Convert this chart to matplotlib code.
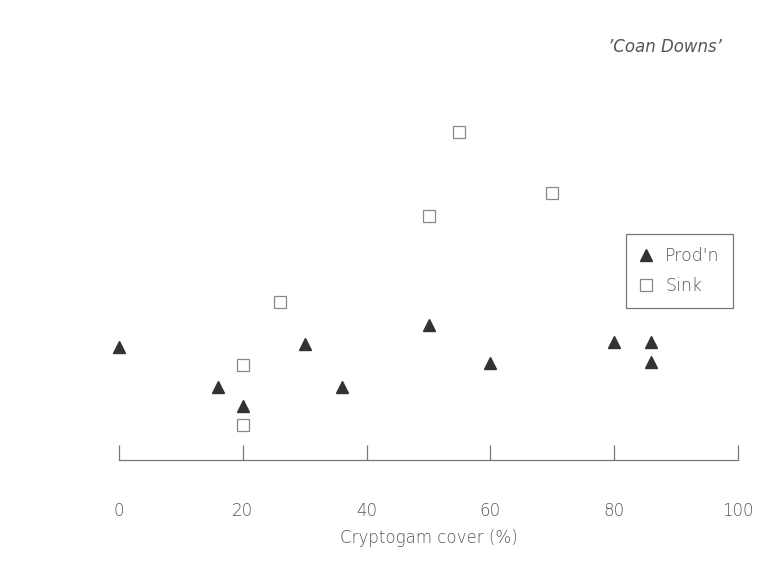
import numpy as np
import matplotlib.pyplot as plt

# Production (filled triangles)
prod_x = [0, 16, 20, 30, 36, 50, 60, 80, 86, 86]
prod_y = [11.3, 7.3, 5.4, 11.6, 7.3, 13.5, 9.7, 11.8, 11.8, 9.8]

# Sink (open squares)
sink_x = [20, 20, 26, 50, 55, 70]
sink_y = [9.5, 3.5, 15.8, 24.4, 32.8, 26.7]

xticks = [0, 20, 40, 60, 80, 100]

ink = '#555555'
fnt = dict(family='DejaVu Sans', weight='light', color=ink)

fig = plt.figure(figsize=(7.71, 5.8), dpi=100)
ax = fig.add_axes([119 / 771, 120 / 580, 619 / 771, 400 / 580])

ax.plot(prod_x, prod_y, linestyle='none', marker='^', markersize=9,
        color='#333333', markeredgecolor='#333333', label="Prod'n", clip_on=False)
ax.plot(sink_x, sink_y, linestyle='none', marker='s', markersize=9,
        markerfacecolor='none', markeredgecolor='#888888', markeredgewidth=0.9,
        label='Sink', clip_on=False)

ax.set_xlim(0, 100)
ax.set_ylim(0, 40)
for s in ['top', 'right', 'left']:
    ax.spines[s].set_visible(False)
ax.spines['bottom'].set_color('#777777')
ax.spines['bottom'].set_linewidth(0.9)
ax.set_yticks([])
ax.set_xticks(xticks)
ax.tick_params(axis='x', direction='in', length=11, width=0.9, color='#777777',
               pad=30, labelsize=12, labelcolor=ink)
for lab in ax.get_xticklabels():
    lab.set_fontweight('light')

ax.set_xlabel('Cryptogam cover (%)', fontsize=12, labelpad=7, **fnt)

fig.text(665 / 771, 1 - 47 / 580, "\u2019Coan Downs\u2019", ha='center', va='center',
         fontsize=12, style='italic', **fnt)

leg = ax.legend(loc='upper left', bbox_to_anchor=((626 - 119) / 619, (460 - 234) / 400),
                borderaxespad=0, frameon=True, fancybox=False, fontsize=12.5,
                handlelength=0.8, handletextpad=0.7, borderpad=0.75, labelspacing=0.7)
leg.get_frame().set_edgecolor('#555555')
leg.get_frame().set_linewidth(0.9)
for t in leg.get_texts():
    t.set_color(ink)
    t.set_fontweight('light')

fig.savefig('out.png', dpi=100)
